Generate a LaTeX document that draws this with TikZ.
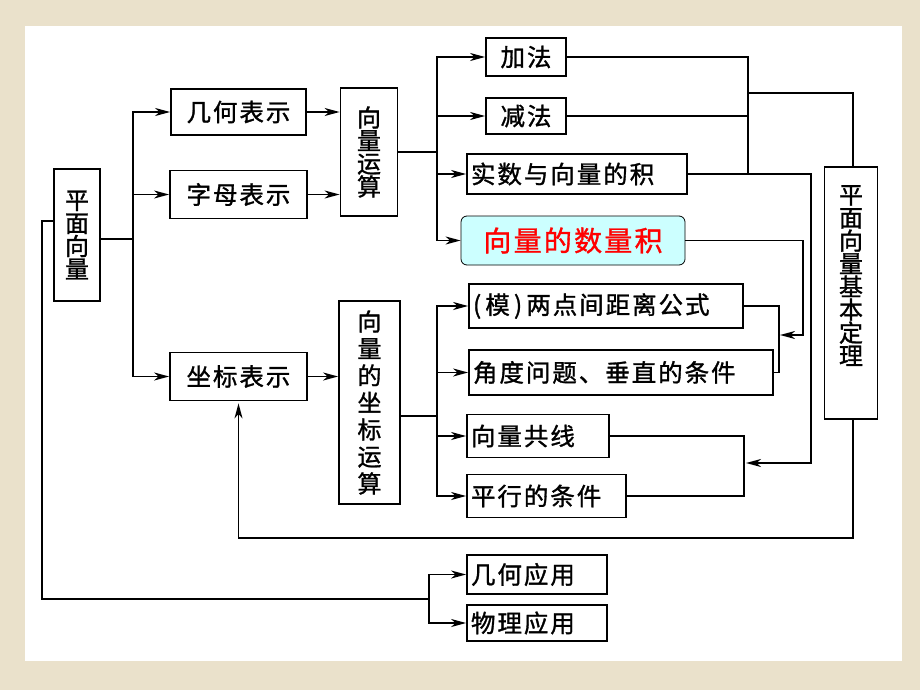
\documentclass[tikz,border=0pt]{standalone}
\usepackage{fontspec}
\newfontfamily\cjk[LetterSpace=8, FakeBold=1.2]{Noto Sans CJK SC}
\newfontfamily\cjkv[FakeBold=1.2]{Noto Sans CJK SC}
\usetikzlibrary{arrows.meta}
\definecolor{bgbeige}{RGB}{234,225,203}
\definecolor{slfill}{RGB}{204,255,255}

\begin{document}
\begin{tikzpicture}[x=1pt, y=-1pt,
    cbox/.style={rectangle, draw=black, line width=1.8pt, inner sep=0pt, font=\fontsize{24.5}{24.5}\cjk},
    lbox/.style={rectangle, draw=black, line width=1.8pt, inner xsep=4pt, inner ysep=0pt, align=left, font=\fontsize{24.5}{24.5}\cjk},
    vbox/.style={rectangle, draw=black, line width=1.8pt, inner sep=0pt, align=center, font=\fontsize{24}{23}\cjkv},
    slbox/.style={rectangle, rounded corners=6pt, draw=black, line width=0.8pt, fill=slfill, text=red, inner sep=0pt, font=\fontsize{28}{28}\cjk},
    conn/.style={line width=1.8pt},
    arr/.style={conn, -{Stealth[length=15pt, width=8pt, inset=4.5pt]}}
]
\useasboundingbox (0,0) rectangle (920,690);

% Fond
\fill[bgbeige] (0,0) rectangle (920,690);
\fill[white] (25,26) rectangle (902,661);

% Boites
\node[vbox, minimum width=46pt, minimum height=132pt] (pm) at (77,235) {平\\面\\向\\量};
\node[cbox, minimum width=135pt, minimum height=46pt] (jh) at (238.5,112) {几何表示};
\node[cbox, minimum width=137pt, minimum height=48pt] (zm) at (238.5,194.5) {字母表示};
\node[cbox, minimum width=137pt, minimum height=48pt] (zb) at (238.5,376.5) {坐标表示};
\node[vbox, minimum width=57pt, minimum height=128pt] (yunsuan) at (369,152) {向\\量\\运\\算};
\node[vbox, minimum width=61pt, minimum height=203pt, font=\fontsize{24}{27}\cjkv] (zbys) at (369.5,402.5) {向\\量\\的\\坐\\标\\运\\算};

\node[cbox, minimum width=80pt, minimum height=38pt] (jia) at (526,57) {加法};
\node[cbox, minimum width=80pt, minimum height=36pt] (jian) at (526,116) {减法};
\node[lbox, text width=212pt, minimum height=40pt] (shishu) at (577,174) {实数与向量的积};
\node[slbox, minimum width=224pt, minimum height=49pt] (shuliang) at (573,240.5) {向量的数量积};

\node[lbox, text width=266pt, minimum height=44pt] (mo) at (606,306) {(\,模\,)\,两点间距离公式};
\node[lbox, text width=296pt, minimum height=45pt] (jiaodu) at (621,372.5) {角度问题、垂直的条件};
\node[lbox, text width=134pt, minimum height=43pt] (gongxian) at (538,436) {向量共线};
\node[lbox, text width=151pt, minimum height=43pt] (pingxing) at (546.5,496) {平行的条件};
\node[lbox, text width=132pt, minimum height=39pt] (jihe) at (537,574.5) {几何应用};
\node[lbox, text width=132pt, minimum height=36pt] (wuli) at (537,623) {物理应用};

\node[vbox, minimum width=53pt, minimum height=252pt] (dingli) at (851,293) {平\\面\\向\\量\\基\\本\\定\\理\\[13pt]~};

% Points de branchement
\coordinate (a1) at (133,239);
\coordinate (b1) at (42,221);
\coordinate (b2) at (429,599);
\coordinate (c1) at (437,152);
\coordinate (c2) at (437,416);
\coordinate (d1) at (748,93);
\coordinate (e1) at (811,463);
\coordinate (f1) at (744,463);
\coordinate (g1) at (779,335);
\coordinate (h1) at (803,335);
\coordinate (m1) at (853,538);

% Liaisons
\draw[conn] (pm.east |- a1) -- (a1);
\draw[arr] (a1) |- (jh);
\draw[arr] (a1) |- (zm);
\draw[arr] (a1) |- (zb);

\draw[conn] (pm.west |- b1) -- (b1) |- (b2);
\draw[arr] (b2) |- (jihe);
\draw[arr] (b2) |- (wuli);

\draw[arr] (jh.east) -- (jh.east -| yunsuan.west);
\draw[arr] (zm.east) -- (zm.east -| yunsuan.west);
\draw[arr] (zb.east) -- (zb.east -| zbys.west);

\draw[conn] (yunsuan.east) -- (c1);
\draw[arr] (c1) |- (jia);
\draw[arr] (c1) |- (jian);
\draw[arr] (c1) |- (shishu);
\draw[arr] (c1) |- (shuliang);

\draw[conn] (zbys.east |- c2) -- (c2);
\draw[arr] (c2) |- (mo);
\draw[arr] (c2) |- (jiaodu);
\draw[arr] (c2) |- (gongxian);
\draw[arr] (c2) |- (pingxing);

\draw[conn] (jia.east) -| (d1 |- shishu.east);
\draw[conn] (jian.east) -- (jian.east -| d1);
\draw[conn] (d1) -| (m1 |- dingli.north);

\draw[conn] (gongxian.east) -| (f1 |- pingxing.east) -- (pingxing.east);
\draw[arr, shorten >=2pt] (shishu.east) -| (e1) -- (f1);

\draw[conn] (mo.east) -| (g1 |- jiaodu.east) -- (jiaodu.east);
\draw[arr, shorten >=1pt] (shuliang.east) -| (h1) -- (g1);

\draw[arr, shorten >=2pt] (m1 |- dingli.south) -- (m1) -| (zb.south);

\end{tikzpicture}
\end{document}
